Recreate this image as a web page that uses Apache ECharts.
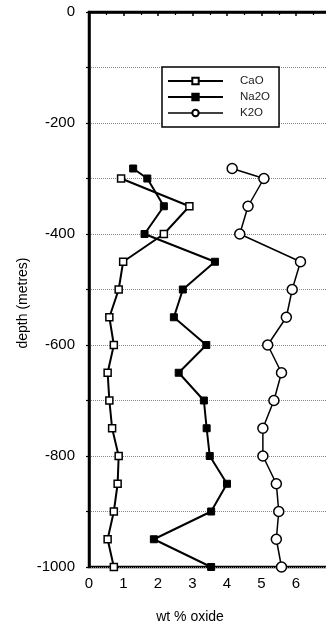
<!DOCTYPE html>
<html>
<head>
<meta charset="utf-8">
<script src="https://cdn.jsdelivr.net/npm/echarts@6/dist/echarts.min.js"></script>
<style>html,body{margin:0;padding:0;background:#fff}#c{width:326px;height:626px}</style>
</head>
<body>
<div id="c"></div>
<script>
var depths = [-300, -350, -400, -450, -500, -550, -600, -650, -700, -750, -800, -850, -900, -950, -1000];
var caoValues = [0.93, 2.91, 2.17, 0.99, 0.86, 0.59, 0.72, 0.54, 0.59, 0.67, 0.86, 0.83, 0.72, 0.54, 0.72];
var na2oDepths = [-282, -300, -350, -400, -450, -500, -550, -600, -650, -700, -750, -800, -850, -900, -950, -1000];
var na2oValues = [1.28, 1.69, 2.17, 1.61, 3.65, 2.72, 2.46, 3.40, 2.60, 3.33, 3.41, 3.50, 4.00, 3.54, 1.88, 3.54];
var k2oDepths = [-282, -300, -350, -400, -450, -500, -550, -600, -650, -700, -750, -800, -850, -900, -950, -1000];
var k2oValues = [4.15, 5.07, 4.61, 4.37, 6.13, 5.89, 5.72, 5.18, 5.58, 5.36, 5.04, 5.04, 5.43, 5.50, 5.43, 5.58];
var seriesNames = ['CaO', 'Na2O', 'K2O'];
var xTickLabels = ['0', '1', '2', '3', '4', '5', '6'];
var yLabelStep = 200;

function pairs(xs, ys) { return xs.map(function (v, i) { return [v, ys[i]]; }); }

var font = 'Liberation Sans, Arial, sans-serif';
var lineWidths = [2, 2, 1.5];
var chart = echarts.init(document.getElementById('c'), null, {renderer: 'canvas'});
chart.setOption({
  animation: false,
  backgroundColor: '#fff',
  grid: {left: 89, top: 12, right: -4.5, bottom: 59, outerBoundsMode: 'none', containLabel: false,
    show: true, borderColor: '#000', borderWidth: 2.5, backgroundColor: 'transparent'},
  legend: {
    orient: 'vertical', left: 162, top: 67,
    data: seriesNames.map(function (n, i) { return {name: n, lineStyle: {width: lineWidths[i], color: '#000'}}; }),
    lineStyle: {width: 2, color: '#000'},
    borderColor: '#000', borderWidth: 1.5, backgroundColor: '#fff',
    padding: [8, 9, 8, 5],
    itemWidth: 55, itemHeight: 8, itemGap: 4,
    textStyle: {fontFamily: font, fontSize: 11.5, color: '#222', padding: [0, 0, 0, 12]}
  },
  xAxis: {
    type: 'value', min: 0, max: 7, interval: 1,
    axisLine: {lineStyle: {color: '#000', width: 2.5}},
    axisTick: {show: true, length: 4, lineStyle: {color: '#000', width: 1.5}},
    minorTick: {show: true, splitNumber: 2, length: 3, lineStyle: {color: '#000', width: 1.2}},
    splitLine: {show: false},
    axisLabel: {fontFamily: font, fontSize: 15, color: '#000', margin: 9,
      formatter: function (v) { return xTickLabels[v] !== undefined ? xTickLabels[v] : ''; }}
  },
  yAxis: {
    type: 'value', min: -1000, max: 0, interval: 100,
    axisLine: {lineStyle: {color: '#000', width: 2.5}},
    axisTick: {show: true, length: 3, lineStyle: {color: '#000', width: 1.2}},
    splitLine: {show: true, lineStyle: {color: '#888', type: 'dotted', width: 1}},
    axisLabel: {fontFamily: font, fontSize: 15, color: '#000', margin: 14,
      formatter: function (v) { return v % yLabelStep === 0 ? String(v) : ''; }}
  },
  graphic: [
    {type: 'text', position: [190, 617], style: {text: 'wt % oxide', font: '14px ' + font, fill: '#000', textAlign: 'center', textVerticalAlign: 'middle'}},
    {type: 'text', position: [23, 303], rotation: Math.PI / 2, style: {text: 'depth (metres)', font: '14px ' + font, fill: '#000', textAlign: 'center', textVerticalAlign: 'middle'}}
  ],
  series: [
    {name: 'CaO', type: 'line', data: pairs(caoValues, depths), symbol: 'rect', symbolSize: 7,
      itemStyle: {color: '#fff', borderColor: '#000', borderWidth: 1.5}, lineStyle: {color: '#000', width: lineWidths[0]}, z: 3},
    {name: 'Na2O', type: 'line', data: pairs(na2oValues, na2oDepths), symbol: 'rect', symbolSize: 7,
      itemStyle: {color: '#000', borderColor: '#000', borderWidth: 1}, lineStyle: {color: '#000', width: lineWidths[1]}, z: 3},
    {name: 'K2O', type: 'line', data: pairs(k2oValues, k2oDepths), symbol: 'circle', symbolSize: 10,
      itemStyle: {color: '#fff', borderColor: '#000', borderWidth: 1.5}, lineStyle: {color: '#000', width: lineWidths[2]}, z: 3}
  ]
});
</script>
</body>
</html>
